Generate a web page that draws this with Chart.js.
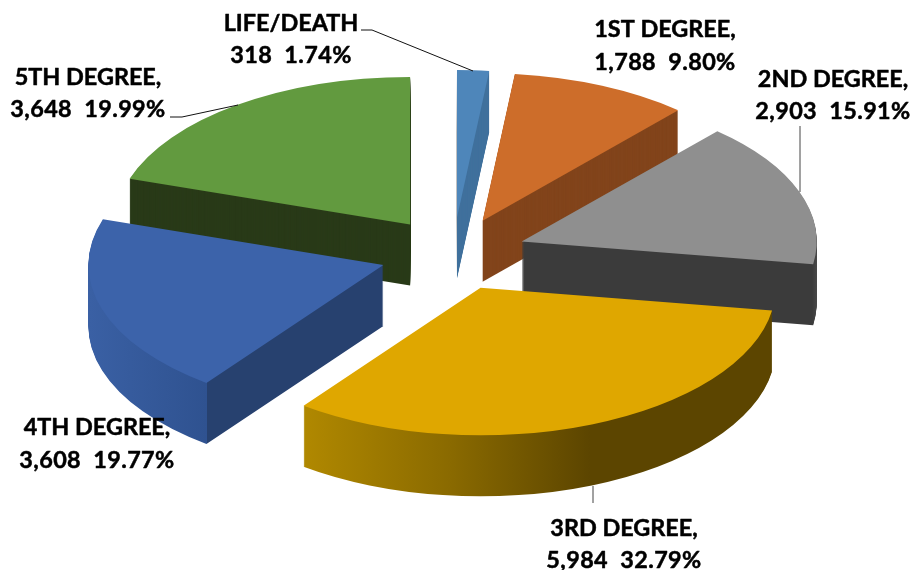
<!DOCTYPE html>
<html>
<head>
<meta charset="utf-8">
<title>Degree pie</title>
<style>
  body { margin: 0; background: #fff; }
  canvas { display: block; }
</style>
<script src="https://cdn.jsdelivr.net/npm/chart.js@4"></script>
</head>
<body>
<canvas id="grafico" width="911" height="570"></canvas>
<script>
const categorias = ['LIFE/DEATH', '1ST DEGREE', '2ND DEGREE', '3RD DEGREE', '4TH DEGREE', '5TH DEGREE'];
const casos = [318, 1788, 2903, 5984, 3608, 3648];
const percentuais = ['1.74%', '9.80%', '15.91%', '32.79%', '19.77%', '19.99%'];

const coresTopo = ['#4e86ba', '#cd6d2a', '#8f8f8f', '#dfa700', '#3c63aa', '#629a3f'];
// parede: [x na tela, cor] por fatia
const coresParede = [
  [[0, '#40719c']],
  [[0, '#82441b']],
  [[0, '#3b3b3b'], [812, '#3b3b3b'], [817, '#484848']],
  [[305, '#b08800'], [450, '#8a6a00'], [590, '#5c4500'], [780, '#5c4500']],
  [[89, '#3a60a4'], [206.5, '#2f5290'], [207, '#27416f'], [390, '#27416f']],
  [[0, '#293a18']]
];
// ordem de pintura das paredes, de tras para frente
const ordemParedes = [0, 1, 2, 5, 4, 3];

const CENTRO_X = 453;
const CENTRO_Y = 254;
const RAIO = 295;
const ACHATAMENTO = 0.5;
const EXPLOSAO = 73;
const ALTURA = 61;

// posicao do rotulo: centro x e base das duas linhas
const rotulos = [
  [291, 31, 63], [665, 37, 70], [833, 87, 119],
  [624, 536, 568], [97, 435, 468], [88, 85, 117]
];
const guias = [
  { cor: '#111', pts: [[361, 30], [372, 30], [473, 71]] },
  { cor: '#444', pts: [[800, 126], [800, 192]] },
  { cor: '#444', pts: [[593, 486], [593, 503]] },
  { cor: '#111', pts: [[170, 117], [182, 117], [238, 105]] }
];

function posicionar(ctx, arco, profundidade) {
  const meio = (arco.startAngle + arco.endAngle) / 2;
  const tx = CENTRO_X + EXPLOSAO * Math.cos(meio);
  const ty = CENTRO_Y + EXPLOSAO * Math.sin(meio) * ACHATAMENTO + profundidade;
  ctx.translate(tx, ty);
  ctx.scale(1, ACHATAMENTO);
  ctx.translate(-arco.x, -arco.y);
  return tx - arco.x;
}

function desenharArco(ctx, arco, cor) {
  const original = arco.options;
  arco.options = Object.assign({}, original, { backgroundColor: cor });
  arco.draw(ctx);
  arco.options = original;
}

function gradienteParede(ctx, i, deslocX) {
  const paradas = coresParede[i];
  if (paradas.length === 1) return paradas[0][1];
  const x0 = paradas[0][0];
  const x1 = paradas[paradas.length - 1][0];
  const g = ctx.createLinearGradient(x0 - deslocX, 0, x1 - deslocX, 0);
  paradas.forEach(p => g.addColorStop((p[0] - x0) / (x1 - x0), p[1]));
  return g;
}

function escreverRotulo(ctx, texto, x, y) {
  ctx.strokeText(texto, x, y);
  ctx.fillText(texto, x, y);
}

const pizza3d = {
  id: 'pizza3d',
  beforeDatasetDraw(chart, args) {
    const ctx = chart.ctx;
    const arcos = args.meta.data;

    ordemParedes.forEach(i => {
      for (let h = ALTURA; h > 0; h--) {
        ctx.save();
        const desloc = posicionar(ctx, arcos[i], h);
        desenharArco(ctx, arcos[i], gradienteParede(ctx, i, desloc));
        ctx.restore();
      }
    });

    arcos.forEach((arco, i) => {
      ctx.save();
      posicionar(ctx, arco, 0);
      desenharArco(ctx, arco, coresTopo[i]);
      ctx.restore();
    });
    return false;
  },
  afterDraw(chart) {
    const ctx = chart.ctx;
    ctx.save();

    ctx.lineWidth = 1;
    guias.forEach(g => {
      ctx.strokeStyle = g.cor;
      ctx.beginPath();
      g.pts.forEach((p, k) => k ? ctx.lineTo(p[0], p[1]) : ctx.moveTo(p[0], p[1]));
      ctx.stroke();
    });

    ctx.fillStyle = '#000';
    ctx.strokeStyle = '#000';
    ctx.lineWidth = 0.5;
    ctx.lineJoin = 'round';
    ctx.font = 'bold 23.4px Lato';
    ctx.textAlign = 'center';
    categorias.forEach((nome, i) => {
      const [x, y1, y2] = rotulos[i];
      const virgula = i === 0 ? '' : ',';
      ctx.letterSpacing = '0px';
      escreverRotulo(ctx, nome + virgula, x, y1);
      ctx.letterSpacing = '0.4px';
      escreverRotulo(ctx, casos[i].toLocaleString('en-US') + '  ' + percentuais[i], x, y2);
    });
    ctx.restore();
  }
};

new Chart(document.getElementById('grafico'), {
  type: 'pie',
  data: {
    labels: categorias,
    datasets: [{
      data: casos,
      backgroundColor: coresTopo,
      borderWidth: 0
    }]
  },
  options: {
    responsive: false,
    animation: false,
    radius: RAIO,
    plugins: { legend: { display: false }, tooltip: { enabled: false } }
  },
  plugins: [pizza3d]
});
</script>
</body>
</html>
